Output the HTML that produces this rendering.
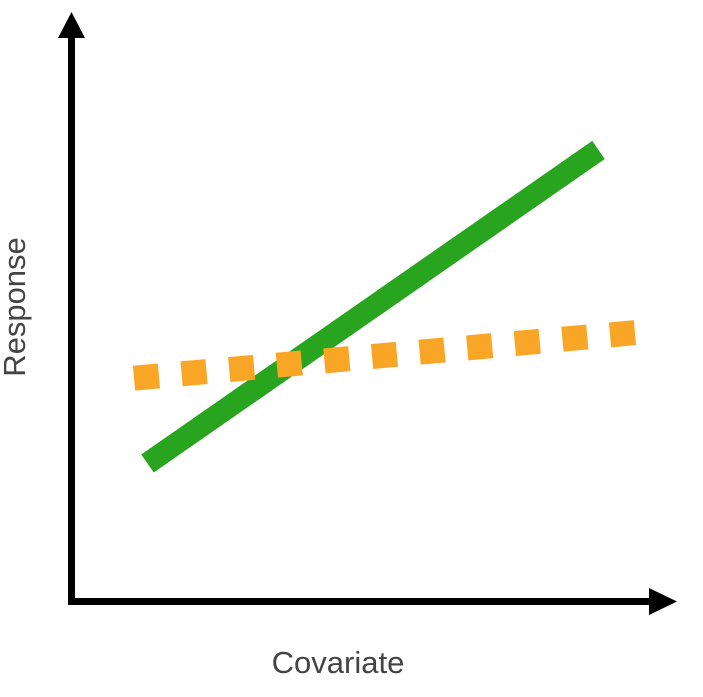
<!DOCTYPE html>
<html><head><meta charset="utf-8"><style>
html,body{margin:0;padding:0;background:#fff;}
svg{display:block;}
</style></head><body>
<svg width="703" height="697" viewBox="0 0 703 697">
<g>
<line x1="71.5" y1="36" x2="71.5" y2="605" stroke="#000" stroke-width="7"/>
<polygon points="71.5,12 58,38 85,38" fill="#000"/>
<line x1="68" y1="601.5" x2="652" y2="601.5" stroke="#000" stroke-width="7"/>
<polygon points="677,601.5 649,588 649,615" fill="#000"/>
</g>
<g id="series"></g>
<text x="338" y="673" text-anchor="middle" font-family="Liberation Sans, sans-serif" font-size="31" fill="#444">Covariate</text>
<text transform="translate(25,307) rotate(-90)" text-anchor="middle" font-family="Liberation Sans, sans-serif" font-size="31" fill="#444">Response</text>
</svg>
<script>
// conceptual data: covariate 0..1, response 0..1
const xValues = [0, 1];
const greenY = [0.215, 0.77];
const orangeY = [0.366, 0.447];
const sx = v => 147.5 + v * (598.5 - 147.5);
const sy = v => 585 - v * 565;
const ox = v => 134 + v * (637 - 134);
const g = document.getElementById('series');
const NS = 'http://www.w3.org/2000/svg';
const l = document.createElementNS(NS, 'line');
l.setAttribute('x1', sx(xValues[0])); l.setAttribute('y1', sy(greenY[0]));
l.setAttribute('x2', sx(xValues[1])); l.setAttribute('y2', sy(greenY[1]));
l.setAttribute('stroke', '#28a41f'); l.setAttribute('stroke-width', '22');


g.appendChild(l);
const o = document.createElementNS(NS, 'line');
o.setAttribute('x1', ox(xValues[0])); o.setAttribute('y1', sy(orangeY[0]));
o.setAttribute('x2', ox(xValues[1])); o.setAttribute('y2', sy(orangeY[1]));
o.setAttribute('stroke', '#f9a526'); o.setAttribute('stroke-width', '25');
o.setAttribute('stroke-dasharray', '25 22.8');


g.appendChild(o);
</script>
</body></html>
